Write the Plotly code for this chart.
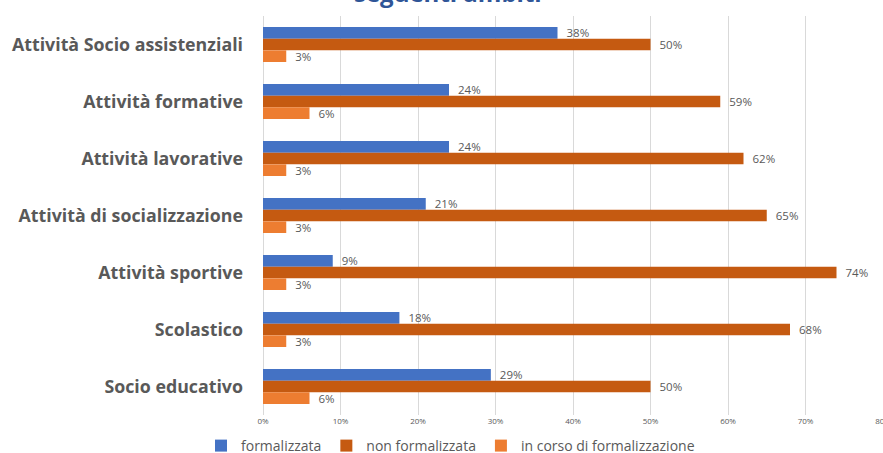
import plotly.graph_objects as go

categories = [
    "Attività Socio assistenziali",
    "Attività formative",
    "Attività lavorative",
    "Attività di socializzazione",
    "Attività sportive",
    "Scolastico",
    "Socio educativo",
]
formalizzata = [0.38, 0.24, 0.24, 0.21, 0.09, 0.176, 0.294]
non_formalizzata = [0.50, 0.59, 0.62, 0.65, 0.74, 0.68, 0.50]
in_corso = [0.03, 0.06, 0.03, 0.03, 0.03, 0.03, 0.06]

series = [
    ("formalizzata", formalizzata, "#4472C4"),
    ("non formalizzata", non_formalizzata, "#C55A11"),
    ("in corso di formalizzazione", in_corso, "#ED7D31"),
]

fig = go.Figure()
for name, vals, col in series:
    fig.add_trace(go.Bar(
        y=categories, x=vals, name=name, orientation="h",
        marker=dict(color=col, line=dict(width=0)),
        texttemplate="\u00a0\u00a0%{x:.0%}", textposition="outside",
        constraintext="none", cliponaxis=False,
        textfont=dict(family="Open Sans", size=11.5, color="#595959"),
    ))

fig.update_layout(
    width=883, height=453,
    margin=dict(l=263, r=0, t=16, b=38, autoexpand=False),
    barmode="group", bargap=0.385, bargroupgap=0,
    plot_bgcolor="white", paper_bgcolor="white",
    showlegend=True,
    legend=dict(orientation="h", xref="container", yref="container",
                x=201 / 883, xanchor="left", y=7 / 453, yanchor="middle",
                font=dict(family="Open Sans", size=14, color="#595959"),
                itemwidth=30, traceorder="normal"),
    xaxis=dict(range=[0, 0.8], tickformat=".0%", dtick=0.1,
               showgrid=True, gridcolor="#D9D9D9", gridwidth=1,
               zeroline=True, zerolinecolor="#D9D9D9", zerolinewidth=1,
               showline=False, ticks="", automargin=False,
               ticklabeloverflow="allow",
               tickfont=dict(family="Open Sans", size=8, color="#595959")),
    yaxis=dict(autorange="reversed", showgrid=False, showline=False, ticks="",
               ticklabelstandoff=19, automargin=False,
               tickfont=dict(family="Open Sans", size=17.8, color="#595959", weight="bold")),
    annotations=[dict(text="seguenti ambiti", xref="paper", yref="paper",
                      x=(447.5 - 263) / 620, y=1.012, xanchor="center", yanchor="bottom",
                      showarrow=False,
                      font=dict(family="Open Sans", size=24, color="#2F5597", weight="bold"))],
)

fig.write_html("out.html", config={"displayModeBar": False},
               post_script="document.body.style.margin='0';document.body.style.overflow='hidden';")
